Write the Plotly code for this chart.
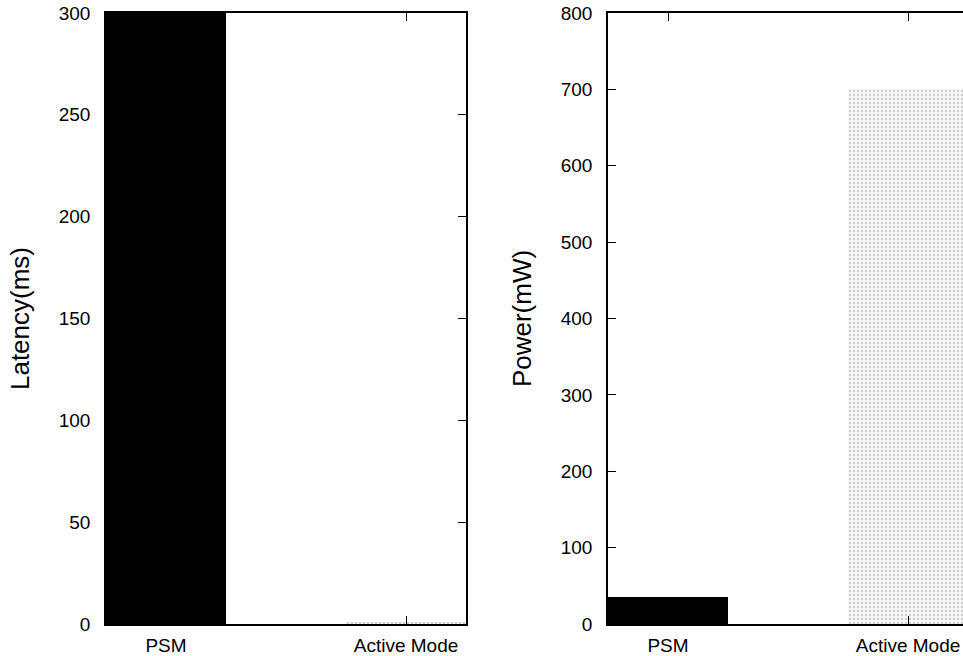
import plotly.graph_objects as go

# Latency and power of the two Wi-Fi modes
modes = ["PSM", "Active Mode"]
latency_ms = [300, 1]
power_mw = [36, 700]

latency_ticks = [0, 50, 100, 150, 200, 250, 300]
power_ticks = [0, 100, 200, 300, 400, 500, 600, 700, 800]

W, H = 963, 656
FONT = "Liberation Sans, Arial, Helvetica, sans-serif"

fig = go.Figure()

fill_colors = ["black", "#f5f5f5"]
patterns = [dict(shape=""), dict(shape=".", fgcolor="#8a8a8a", bgcolor="#f5f5f5", size=4, solidity=0.2)]

for i, (vals, xa, ya) in enumerate([(latency_ms, "x", "y"), (power_mw, "x2", "y2")]):
    for j in range(len(modes)):
        fig.add_trace(go.Bar(
            x=[j], y=[vals[j]], width=0.5,
            marker=dict(color=fill_colors[j], line=dict(width=0), pattern=patterns[j]),
            xaxis=xa, yaxis=ya, showlegend=False,
        ))

x_common = dict(
    tickmode="array", tickvals=[0, 1], ticktext=modes,
    ticks="inside", ticklen=8, tickwidth=1.3, tickcolor="black",
    showline=True, linecolor="black", linewidth=1.5,
    showgrid=False, zeroline=False, automargin=False,
    tickfont=dict(family=FONT, size=19, color="black"),
    ticklabelstandoff=3,
)
y_common = dict(
    ticks="inside", ticklen=8, tickwidth=1.3, tickcolor="black",
    showline=True, linecolor="black", linewidth=1.5,
    showgrid=False, zeroline=False, automargin=False,
    tickfont=dict(family=FONT, size=19, color="black"),
    title_font=dict(family=FONT, size=26, color="black"),
    ticklabelstandoff=10,
)

y_dom = [(H - 624) / H, (H - 13) / H]

fig.update_layout(
    width=W, height=H,
    margin=dict(l=0, r=0, t=0, b=0, pad=0),
    paper_bgcolor="white", plot_bgcolor="white",
    bargap=0,
    xaxis=dict(x_common, domain=[106 / W, 466 / W], range=[-0.25, 1.25], mirror="ticks", anchor="y"),
    yaxis=dict(y_common, domain=y_dom, range=[0, 300], tickvals=latency_ticks,
               mirror="ticks", anchor="x", title=dict(text="Latency(ms)", standoff=22)),
    xaxis2=dict(x_common, domain=[608 / W, 1.0], range=[-0.25, -0.25 + (W - 608) / 240],
                mirror="ticks", anchor="y2"),
    yaxis2=dict(y_common, domain=y_dom, range=[0, 800], tickvals=power_ticks,
                mirror=False, anchor="x2", title=dict(text="Power(mW)", standoff=22)),
)

fig.write_html("out.html")
